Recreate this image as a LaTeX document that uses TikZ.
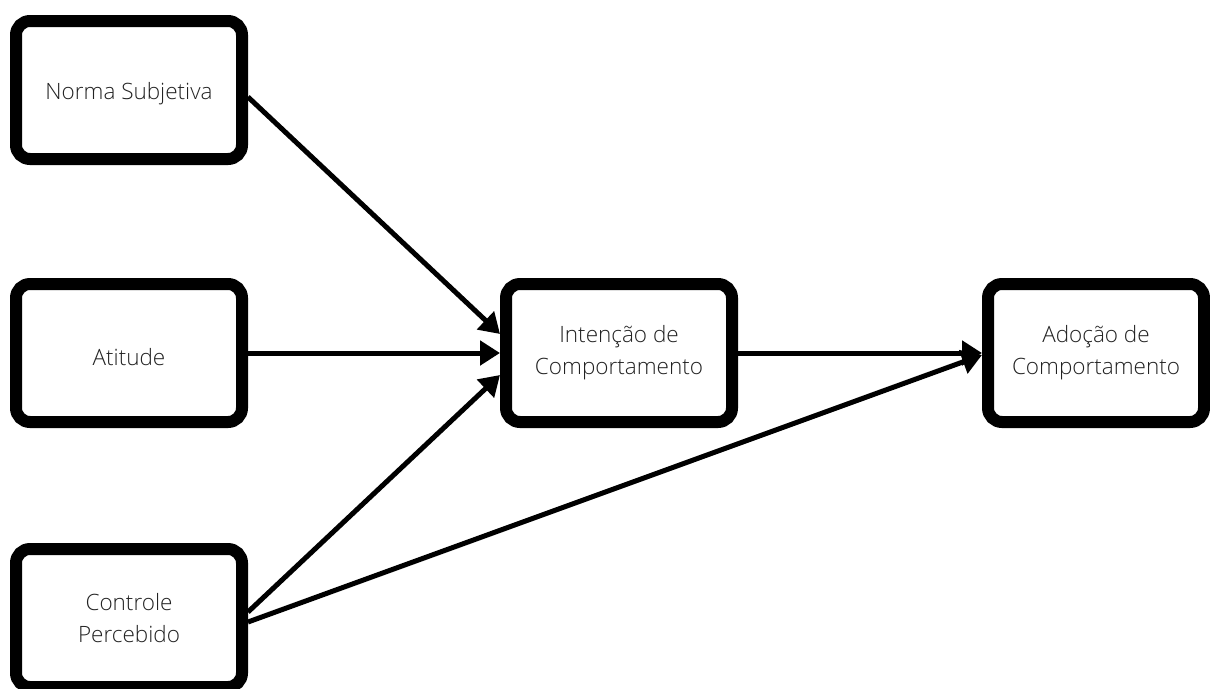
\documentclass[tikz,border=0pt]{standalone}
\usepackage{fontspec}
\setmainfont{Open Sans}[UprightFont=* Light]
\usetikzlibrary{arrows.meta}
\definecolor{labelgray}{HTML}{222222}
\begin{document}
\begin{tikzpicture}[x=1pt,y=-1pt,
  box/.style={draw=black, line width=12pt, rounded corners=14pt, fill=white,
    minimum width=226pt, minimum height=138pt, align=center,
    font=\fontsize{22.5}{32}\selectfont, text=labelgray, inner sep=0pt,
    execute at begin node={\rule{0pt}{25pt}}},
  link/.style={line width=5pt, -{Triangle[length=20pt,width=24pt]}, line join=round}]
  \useasboundingbox (0,0) rectangle (1210,688);
  \fill[white] (0,0) rectangle (1210,688);

  \node[box] (norma) at (129,90) {Norma Subjetiva};
  \node[box] (atit) at (129,353) {Atitude};
  \node[box] (ctrl) at (129,618) {Controle\\Percebido};
  \node[box] (inten) at (619,353) {Intenção de\\Comportamento};
  \node[box, minimum width=216pt] (adoc) at (1096,353) {Adoção de\\Comportamento};

  \draw[link] ([yshift=-7pt]norma.east) -- ([yshift=19pt]inten.west);
  \draw[link] (atit.east) -- (inten.west);
  \draw[link] ([yshift=6pt]ctrl.east) -- ([yshift=-22pt]inten.west);
  \draw[link] ([yshift=-4pt]ctrl.east) -- ([yshift=-2pt]adoc.west);
  \draw[link] (inten.east) -- (adoc.west);
\end{tikzpicture}
\end{document}
